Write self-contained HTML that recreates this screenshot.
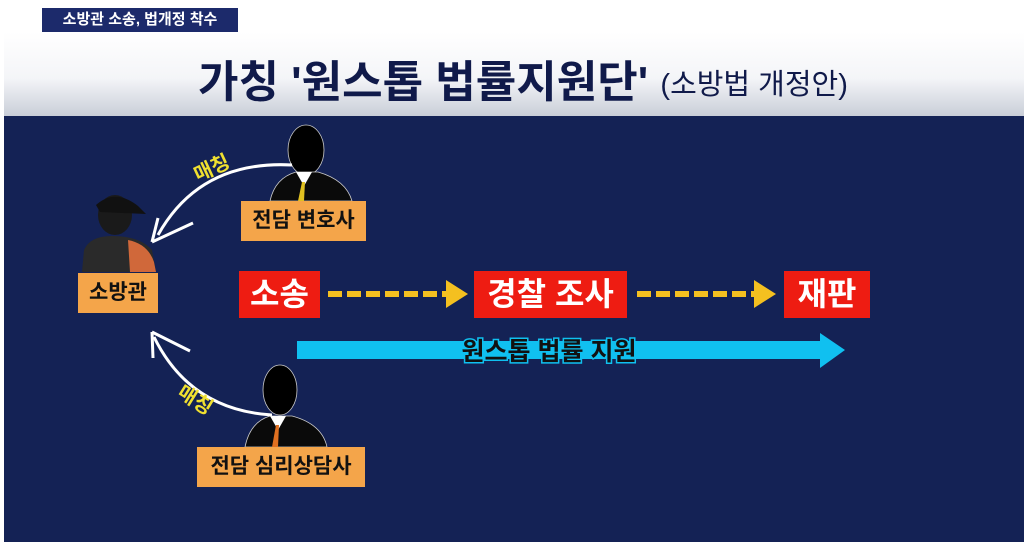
<!DOCTYPE html>
<html><head><meta charset="utf-8"><style>
body{margin:0;width:1024px;height:542px;overflow:hidden;background:#fff;position:relative;font-family:"Liberation Sans","Noto Sans CJK KR",sans-serif}
.a{position:absolute}
.ob{position:absolute;background:#f4a54a;color:#111;font-weight:bold;font-size:21px;text-align:center;line-height:40px;white-space:nowrap}
.rb{position:absolute;background:#ee1c12;color:#fff;font-weight:bold;font-size:32px;text-align:center;line-height:47px;white-space:nowrap}
</style></head><body>
<div class="a" style="left:4px;top:32px;width:1020px;height:84px;background:linear-gradient(#fff 0%,#f4f5f8 55%,#c9ced8 100%)"></div>
<div class="a" style="left:42px;top:8px;width:196px;height:24px;background:#1c2a6b;color:#fff;font-size:15px;font-weight:bold;line-height:24px;text-align:center">소방관 소송, 법개정 착수</div>
<div class="a" style="left:198px;top:57px;font-size:44px;font-weight:bold;color:#101a4a;white-space:nowrap;line-height:52px">가칭 '원스톱 법률지원단' <span style="font-size:29px;font-weight:normal;position:relative;top:-3px">(소방법 개정안)</span></div>
<div class="a" style="left:4px;top:116px;width:1020px;height:426px;background:#142255"></div>
<svg class="a" style="left:0;top:0" width="1024" height="542">
<ellipse cx="115" cy="215" rx="17" ry="20" fill="#1a1a1a"/>
<path d="M96 205 Q115 188 138 206 L146 214 L100 212Z" fill="#111"/>
<path d="M82 272 L84 250 Q90 236 112 236 Q140 236 152 250 L156 272Z" fill="#2a2a2a"/>
<path d="M128 240 Q148 244 154 262 L156 272 L130 272Z" fill="#d0683a"/>
<ellipse cx="306" cy="150" rx="18" ry="25" fill="#000" stroke="#ccc" stroke-width="0.8"/>
<path d="M270 201 Q275 178 296 172 L318 172 Q346 180 352 201Z" fill="#0a0a0a" stroke="#ccc" stroke-width="0.8"/>
<path d="M296 172 L304 186 L312 172Z" fill="#fff"/><path d="M302 182 L305 182 L304 201 L298 201Z" fill="#e0c020"/>
<ellipse cx="280" cy="390" rx="17" ry="25" fill="#000" stroke="#ccc" stroke-width="0.8"/>
<path d="M245 447 Q250 422 270 416 L292 416 Q322 424 327 447Z" fill="#0a0a0a" stroke="#ccc" stroke-width="0.8"/>
<path d="M270 416 L278 430 L286 416Z" fill="#fff"/><path d="M276 425 L279 425 L278 447 L272 447Z" fill="#e07020"/>
<path d="M292 165 Q200 160 158 235" fill="none" stroke="#fff" stroke-width="3"/>
<path d="M152 242 L158 218 M152 242 L193 223" stroke="#fff" stroke-width="3" fill="none"/>
<path d="M272 415 Q190 410 154 337" fill="none" stroke="#fff" stroke-width="3"/>
<path d="M152 332 L153 358 M152 332 L190 351" stroke="#fff" stroke-width="3" fill="none"/>
<text x="198" y="182" fill="#f0e030" font-size="20" font-weight="bold" transform="rotate(-25 198 182)" font-family="Liberation Sans,Noto Sans CJK KR,sans-serif">매칭</text>
<text x="176" y="396" fill="#f0e030" font-size="20" font-weight="bold" transform="rotate(32 176 396)" font-family="Liberation Sans,Noto Sans CJK KR,sans-serif">매칭</text>
<line x1="328" y1="294" x2="450" y2="294" stroke="#f4c020" stroke-width="6" stroke-dasharray="14 5"/>
<path d="M446 280 L468 294 L446 308Z" fill="#f4c020"/>
<line x1="637" y1="294" x2="758" y2="294" stroke="#f4c020" stroke-width="6" stroke-dasharray="14 5"/>
<path d="M754 280 L776 294 L754 308Z" fill="#f4c020"/>
<rect x="297" y="341" width="525" height="18" fill="#10c0f0"/>
<path d="M820 333 L845 350 L820 368Z" fill="#10c0f0"/>
<text x="549" y="360" text-anchor="middle" fill="#111" stroke="#10c0f0" stroke-width="3" paint-order="stroke" font-size="25" font-weight="bold" font-family="Liberation Sans,Noto Sans CJK KR,sans-serif">원스톱 법률 지원</text>
</svg>
<div class="ob" style="left:78px;top:273px;width:80px">소방관</div>
<div class="ob" style="left:241px;top:201px;width:125px">전담 변호사</div>
<div class="ob" style="left:197px;top:447px;width:168px">전담 심리상담사</div>
<div class="rb" style="left:239px;top:271px;width:81px">소송</div>
<div class="rb" style="left:474px;top:271px;width:153px">경찰 조사</div>
<div class="rb" style="left:784px;top:271px;width:86px">재판</div>
</body></html>
